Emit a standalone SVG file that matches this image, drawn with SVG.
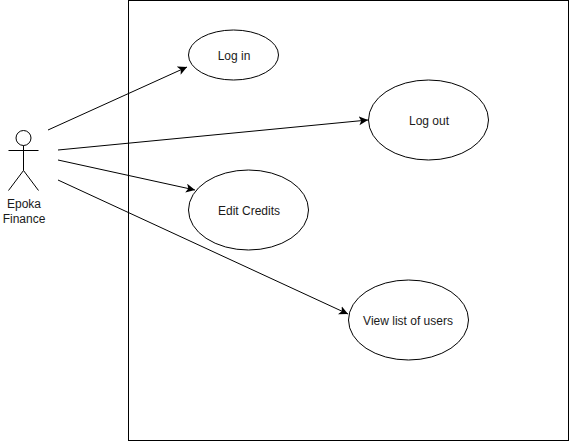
<svg xmlns="http://www.w3.org/2000/svg" width="570" height="444" viewBox="0 0 570 444">
<style>
.s{fill:none;stroke:#000;stroke-width:1}
.e{fill:#fff;stroke:#000;stroke-width:1}
.c{fill:none;stroke:#000;stroke-width:1;marker-end:url(#a)}
text{font-family:"Liberation Sans",Arial,sans-serif;font-size:12px;fill:#1a1a1a;text-anchor:middle}
</style>
<defs><marker id="a" markerUnits="userSpaceOnUse" markerWidth="12" markerHeight="10" refX="9" refY="4.5" orient="auto"><path d="M0 0L9 4.5L0 9L2.2 4.5Z" fill="#000"/></marker></defs>
<rect width="570" height="444" fill="#fff"/>
<rect id="boundary" class="s" x="128.500" y="0.500" width="440" height="440"/>
<g id="connectors">
<path class="c" d="M48 130L187 67"/>
<path class="c" d="M58 150L368 120"/>
<path class="c" d="M58 160L195 190"/>
<path class="c" d="M58 180L348 314"/>
</g>
<g id="actor">
<circle class="e" cx="23.500" cy="138" r="7.500"/>
<path class="s" d="M23.500 145.500V170.500M8.500 150.500H38.500M8.500 190.500L23.500 170.500L38.500 190.500"/>
<text x="24" y="208">Epoka</text><text x="24" y="223">Finance</text>
</g>
<g id="login"><ellipse class="e" cx="233.500" cy="55" rx="45" ry="25"/><text x="234" y="60">Log in</text></g>
<g id="logout"><ellipse class="e" cx="428.500" cy="120" rx="60" ry="40"/><text x="429" y="125">Log out</text></g>
<g id="edit"><ellipse class="e" cx="248.500" cy="210" rx="60" ry="40"/><text x="249" y="215">Edit Credits</text></g>
<g id="view"><ellipse class="e" cx="408.500" cy="320" rx="60" ry="40"/><text x="408" y="325">View list of users</text></g>
</svg>
